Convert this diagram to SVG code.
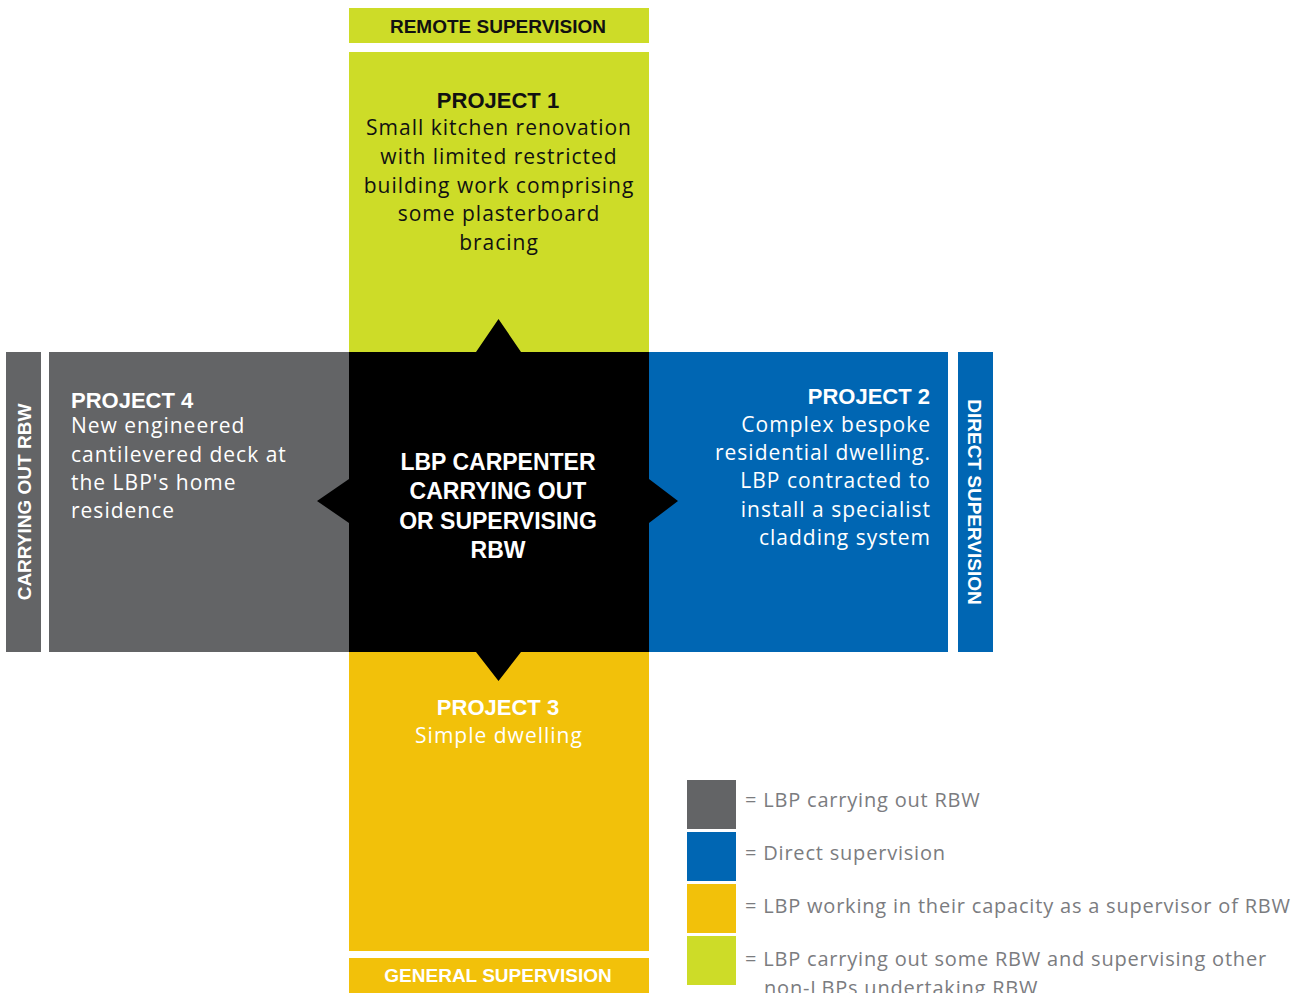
<svg xmlns="http://www.w3.org/2000/svg" width="1303" height="993" viewBox="0 0 1303 993">
<style>
.t{font-family:"Liberation Sans",Arial,sans-serif;}
.o{font-family:"Open Sans","Liberation Sans",Arial,sans-serif;}
.body{font-size:21px;letter-spacing:1px;font-family:"Open Sans","Liberation Sans",Arial,sans-serif;}
.hd{font-size:22px;font-weight:bold;letter-spacing:0;font-family:"Liberation Sans",Arial,sans-serif;}
.lab{font-size:19px;font-weight:bold;}
.ctr{font-size:23px;font-weight:bold;fill:#fff;}
.lg{font-size:20px;letter-spacing:0.8px;fill:#7b7c7f;}
.dk{fill:#111;}
.wh{fill:#fff;}
</style>
<rect width="1303" height="993" fill="#fff"/>
<g id="remote-label">
<rect x="349" y="8" width="300" height="35" fill="#cddc28"/>
<text class="t lab dk" x="498" y="33" text-anchor="middle">REMOTE SUPERVISION</text>
</g>
<g id="project1">
<rect x="349" y="52" width="300" height="300" fill="#cddc28"/>
<text class="t dk" text-anchor="middle"><tspan class="hd" x="498" y="108">PROJECT 1</tspan><tspan class="body" x="499" y="135">Small kitchen renovation</tspan><tspan class="body" x="499" y="164">with limited restricted</tspan><tspan class="body" x="499" y="193">building work comprising</tspan><tspan class="body" x="499" y="221">some plasterboard</tspan><tspan class="body" x="499" y="250">bracing</tspan></text>
</g>
<g id="carrying-label">
<rect x="6" y="352" width="35" height="300" fill="#636466"/>
<text class="t lab wh" transform="translate(31,502) rotate(-90)" text-anchor="middle">CARRYING OUT RBW</text>
</g>
<g id="project4">
<rect x="49" y="352" width="300" height="300" fill="#636466"/>
<text class="t wh"><tspan class="hd" x="71" y="408">PROJECT 4</tspan><tspan class="body" x="71" y="433">New engineered</tspan><tspan class="body" x="71" y="462">cantilevered deck at</tspan><tspan class="body" x="71" y="490">the LBP's home</tspan><tspan class="body" x="71" y="518">residence</tspan></text>
</g>
<g id="project2">
<rect x="649" y="352" width="299" height="300" fill="#0066b3"/>
<text class="t wh" text-anchor="end"><tspan class="hd" x="930" y="404">PROJECT 2</tspan><tspan class="body" x="931" y="432">Complex bespoke</tspan><tspan class="body" x="931" y="460">residential dwelling.</tspan><tspan class="body" x="931" y="488">LBP contracted to</tspan><tspan class="body" x="931" y="517">install a specialist</tspan><tspan class="body" x="931" y="545">cladding system</tspan></text>
</g>
<g id="direct-label">
<rect x="958" y="352" width="35" height="300" fill="#0066b3"/>
<text class="t lab wh" transform="translate(968,502) rotate(90)" text-anchor="middle">DIRECT SUPERVISION</text>
</g>
<g id="project3">
<rect x="349" y="652" width="300" height="299" fill="#f2c10a"/>
<text class="t wh" text-anchor="middle"><tspan class="hd" x="498" y="715">PROJECT 3</tspan><tspan class="body" x="499" y="743">Simple dwelling</tspan></text>
</g>
<g id="general-label">
<rect x="349" y="958" width="300" height="35" fill="#f2c10a"/>
<text class="t lab wh" x="498" y="982" text-anchor="middle">GENERAL SUPERVISION</text>
</g>
<g id="center">
<path d="M349 352 H476 L498.5 319 L521 352 H649 V479 L678 501 L649 523 V652 H521 L498.5 681 L476 652 H349 V523 L317 501 L349 479 Z" fill="#000"/>
<text class="t ctr" text-anchor="middle"><tspan x="498" y="470">LBP CARPENTER</tspan><tspan x="498" y="499">CARRYING OUT</tspan><tspan x="498" y="529">OR SUPERVISING</tspan><tspan x="498" y="558">RBW</tspan></text>
</g>
<g id="connectors"></g>
<g id="legend">
<rect x="687" y="780" width="49" height="49" fill="#636466"/>
<rect x="687" y="832" width="49" height="49" fill="#0066b3"/>
<rect x="687" y="884" width="49" height="49" fill="#f2c10a"/>
<rect x="687" y="936" width="49" height="49" fill="#cddc28"/>
<text class="o lg" x="745" y="807">= LBP carrying out RBW</text>
<text class="o lg" x="745" y="860">= Direct supervision</text>
<text class="o lg" x="745" y="913">= LBP working in their capacity as a supervisor of RBW</text>
<text class="o lg"><tspan x="745" y="966">= LBP carrying out some RBW and supervising other</tspan><tspan x="764" y="995">non-LBPs undertaking RBW</tspan></text>
</g>
</svg>
